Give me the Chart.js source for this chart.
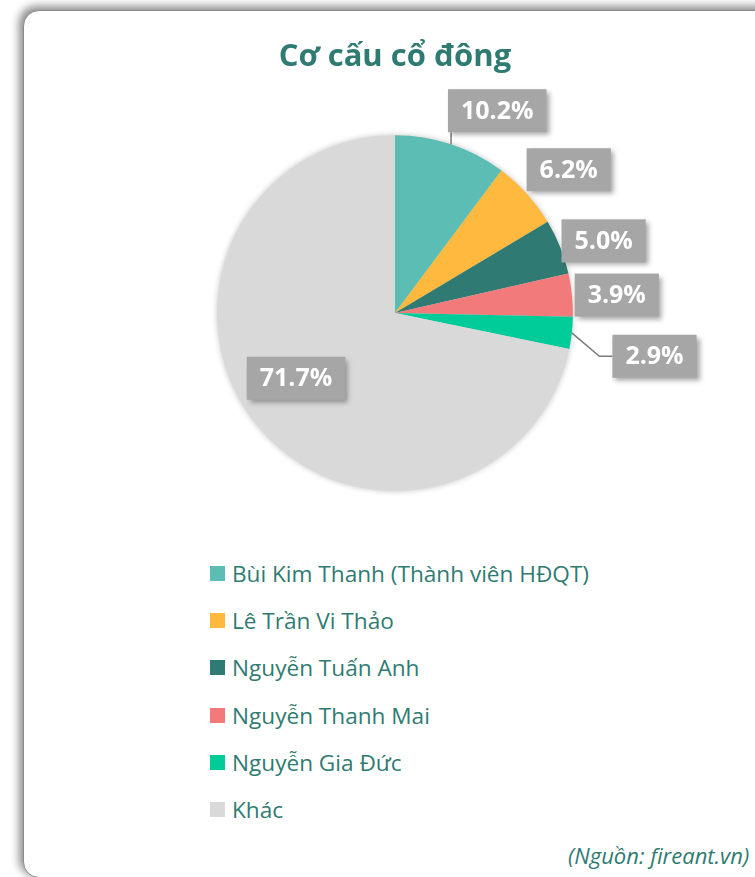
<!DOCTYPE html>
<html>
<head>
<meta charset="utf-8">
<script src="https://cdn.jsdelivr.net/npm/chart.js@4.4.1/dist/chart.umd.min.js"></script>
<style>
  html, body { margin: 0; padding: 0; width: 755px; height: 877px; overflow: hidden; background: #ffffff; }
  #card {
    position: absolute; left: 23px; top: 10px; width: 780px; height: 866px;
    background: #fff; border: 1px solid #8a8a8a; border-radius: 16px;
    box-shadow: -3px -3px 8px 1px rgba(0,0,0,0.45);
  }
  #wrap { position: absolute; left: 23px; top: 10px; width: 732px; height: 490px; }
  #legend { position: absolute; left: 210px; top: 550px; font-family: "Open Sans", sans-serif; font-size: 22.6px; color: #2f7b72; }
  .row { height: 47.2px; display: flex; align-items: center; }
  .sw { width: 15px; height: 15px; margin-right: 7px; flex: none; }
  #source { position: absolute; left: 568px; top: 841px; line-height: 28px; font-family: "Open Sans", sans-serif; font-style: italic; font-size: 22px; color: #2f7b72; white-space: nowrap; }
</style>
</head>
<body>
<div id="card"></div>
<div id="wrap"><canvas id="c"></canvas></div>
<div id="legend"></div>
<div id="source">(Nguồn: fireant.vn)</div>
<script>
const categories = ["Bùi Kim Thanh (Thành viên HĐQT)", "Lê Trần Vi Thảo", "Nguyễn Tuấn Anh", "Nguyễn Thanh Mai", "Nguyễn Gia Đức", "Khác"];
const shares = [10.2, 6.2, 5.0, 3.9, 2.9, 71.7];
const colors = ["#5bbdb4", "#ffb93f", "#2f7b73", "#f27a7a", "#00cc99", "#d9d9d9"];
const titleText = "Cơ cấu cổ đông";

// label placement (relative to each slice's mid-angle)
const labelRadius = [1.27, 1.27, 1.27, 1.27, 1.27, 0.66];
const labelNudge = [[31, 12], [6, 8], [-1, 12], [-3, 5], [35, 18], [-8, -9]];
const labelConnector = ["v", null, null, null, "h", null];

const pieShadow = {
  id: 'pieShadow',
  beforeDatasetsDraw(chart) {
    const arc = chart.getDatasetMeta(0).data[0];
    if (!arc) return;
    const ctx = chart.ctx;
    ctx.save();
    ctx.shadowColor = 'rgba(0,0,0,0.28)';
    ctx.shadowBlur = 6;
    ctx.fillStyle = '#d9d9d9';
    ctx.beginPath();
    ctx.arc(arc.x, arc.y, arc.outerRadius - 0.5, 0, Math.PI * 2);
    ctx.fill();
    ctx.restore();
  }
};

const boxLabels = {
  id: 'boxLabels',
  afterDatasetsDraw(chart) {
    const ctx = chart.ctx;
    const meta = chart.getDatasetMeta(0);
    ctx.save();
    ctx.font = 'bold 25px "Open Sans", sans-serif';
    ctx.textAlign = 'center';
    ctx.textBaseline = 'middle';
    meta.data.forEach((arc, i) => {
      const p = arc.getProps(['x', 'y', 'startAngle', 'endAngle', 'outerRadius'], true);
      const mid = (p.startAngle + p.endAngle) / 2;
      const r = p.outerRadius;
      const lx = p.x + Math.cos(mid) * r * labelRadius[i] + labelNudge[i][0];
      const ly = p.y + Math.sin(mid) * r * labelRadius[i] + labelNudge[i][1];
      const text = shares[i].toFixed(1) + '%';
      const tw = ctx.measureText(text).width;
      const w = tw + 26, h = 43;
      const bx = lx - w / 2, by = ly - h / 2;
      const ex = p.x + Math.cos(mid) * r, ey = p.y + Math.sin(mid) * r;
      if (labelConnector[i]) {
        ctx.strokeStyle = '#7a7a7a';
        ctx.lineWidth = 1.5;
        ctx.beginPath();
        ctx.moveTo(ex, ey);
        if (labelConnector[i] === 'v') {
          ctx.lineTo(ex, by + h);
        } else {
          ctx.lineTo(bx - 13, ly);
          ctx.lineTo(bx, ly);
        }
        ctx.stroke();
      }
      ctx.save();
      ctx.shadowColor = 'rgba(0,0,0,0.35)';
      ctx.shadowBlur = 5;
      ctx.shadowOffsetX = 3;
      ctx.shadowOffsetY = 3;
      ctx.fillStyle = '#a6a6a6';
      ctx.fillRect(bx, by, w, h);
      ctx.restore();
      ctx.fillStyle = '#ffffff';
      ctx.fillText(text, lx, ly + 1);
    });
    ctx.restore();
  }
};

const chart = new Chart(document.getElementById('c'), {
  type: 'pie',
  data: {
    labels: categories,
    datasets: [{ data: shares, backgroundColor: colors, borderWidth: 0, hoverOffset: 0 }]
  },
  options: {
    responsive: true,
    maintainAspectRatio: false,
    animation: false,
    layout: { padding: { left: 12, right: 0, top: 0, bottom: 9 } },
    plugins: {
      legend: { display: false },
      tooltip: { enabled: false },
      title: {
        display: true,
        text: titleText,
        color: '#2f7b72',
        font: { family: '"Open Sans", sans-serif', size: 31, weight: 'bold' },
        padding: { top: 29, bottom: 59 }
      }
    }
  },
  plugins: [pieShadow, boxLabels]
});

const legend = document.getElementById('legend');
categories.forEach((name, i) => {
  const row = document.createElement('div');
  row.className = 'row';
  const sw = document.createElement('span');
  sw.className = 'sw';
  sw.style.background = colors[i];
  const t = document.createElement('span');
  t.textContent = name;
  row.appendChild(sw);
  row.appendChild(t);
  legend.appendChild(row);
});
</script>
</body>
</html>
